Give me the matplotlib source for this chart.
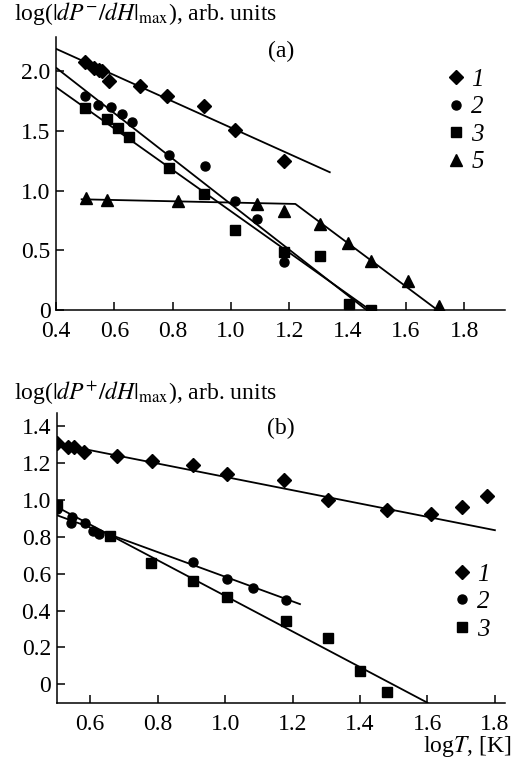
import matplotlib
matplotlib.use('Agg')
import matplotlib.pyplot as plt

plt.rcParams['font.family'] = ['Liberation Serif', 'DejaVu Serif']
plt.rcParams['mathtext.fontset'] = 'stix'
plt.rcParams['font.size'] = 17

# ---- panel (a) data ----
a1_x = [0.50, 0.532, 0.548, 0.558, 0.582, 0.688, 0.780, 0.909, 1.014, 1.183]
a1_y = [2.08, 2.03, 2.01, 2.00, 1.92, 1.88, 1.79, 1.71, 1.51, 1.25]
a2_x = [0.50, 0.543, 0.588, 0.627, 0.662, 0.787, 0.910, 1.013, 1.088, 1.183]
a2_y = [1.79, 1.72, 1.70, 1.64, 1.58, 1.30, 1.21, 0.91, 0.76, 0.40]
a3_x = [0.501, 0.574, 0.611, 0.651, 0.787, 0.907, 1.013, 1.183, 1.307, 1.405, 1.479]
a3_y = [1.69, 1.60, 1.53, 1.45, 1.19, 0.97, 0.67, 0.49, 0.45, 0.05, 0.0]
a5_x = [0.502, 0.576, 0.817, 1.088, 1.183, 1.307, 1.402, 1.479, 1.607, 1.712]
a5_y = [0.94, 0.92, 0.91, 0.89, 0.83, 0.72, 0.56, 0.41, 0.24, 0.03]
# fitted lines (end points)
a1_fit_x = [0.40, 1.339]
a1_fit_y = [2.19, 1.155]
a2_fit_x = [0.402, 1.465]
a2_fit_y = [2.028, 0.0]
a3_fit_x = [0.402, 1.477]
a3_fit_y = [1.865, 0.0]
a5_fit_x = [0.488, 1.221, 1.708]
a5_fit_y = [0.928, 0.889, 0.0]

# ---- panel (b) data ----
b1_x = [0.501, 0.535, 0.552, 0.582, 0.679, 0.782, 0.906, 1.005, 1.174, 1.306, 1.479, 1.610, 1.701, 1.777]
b1_y = [1.31, 1.29, 1.285, 1.26, 1.24, 1.21, 1.19, 1.14, 1.11, 1.00, 0.945, 0.923, 0.963, 1.02]
b2_x = [0.50, 0.542, 0.545, 0.585, 0.609, 0.627, 0.906, 1.006, 1.083, 1.182]
b2_y = [0.95, 0.876, 0.905, 0.876, 0.833, 0.815, 0.665, 0.571, 0.520, 0.457]
b3_x = [0.50, 0.659, 0.779, 0.906, 1.005, 1.182, 1.306, 1.400, 1.479]
b3_y = [0.975, 0.804, 0.656, 0.562, 0.471, 0.345, 0.249, 0.072, -0.043]
b1_fit_x = [0.50, 1.80]
b1_fit_y = [1.306, 0.836]
b2_fit_x = [0.50, 1.222]
b2_fit_y = [0.918, 0.435]
b3_fit_x = [0.50, 1.60]
b3_fit_y = [0.963, -0.10]

a_xticks = [0.4, 0.6, 0.8, 1.0, 1.2, 1.4, 1.6, 1.8]
a_yticks = [0, 0.5, 1.0, 1.5, 2.0]
a_yticklabels = ['0', '0.5', '1.0', '1.5', '2.0']
b_xticks = [0.6, 0.8, 1.0, 1.2, 1.4, 1.6, 1.8]
b_yticks = [0, 0.2, 0.4, 0.6, 0.8, 1.0, 1.2, 1.4]
b_yticklabels = ['0', '0.2', '0.4', '0.6', '0.8', '1.0', '1.2', '1.4']

fig = plt.figure(figsize=(5.16, 7.68), dpi=100)
axa = fig.add_axes([0.1085, 0.5964, 0.8702, 0.3556])
axb = fig.add_axes([0.1095, 0.0850, 0.8692, 0.3768])


def style(ax):
    for s in ['top', 'right']:
        ax.spines[s].set_visible(False)
    for s in ['left', 'bottom']:
        ax.spines[s].set_linewidth(1.1)
    ax.tick_params(direction='in', length=6, width=1.1, labelsize=17)
    ax.tick_params(axis='x', pad=8)
    ax.tick_params(axis='y', pad=4)


ms = dict(color='black', linestyle='none')
lw = 1.3

# panel (a)
axa.plot(a1_fit_x, a1_fit_y, 'k-', lw=lw)
axa.plot(a2_fit_x, a2_fit_y, 'k-', lw=lw)
axa.plot(a3_fit_x, a3_fit_y, 'k-', lw=lw)
axa.plot(a5_fit_x, a5_fit_y, 'k-', lw=lw)
h1, = axa.plot(a1_x, a1_y, marker='D', markersize=7, label='1', **ms)
h2, = axa.plot(a2_x, a2_y, marker='o', markersize=6.5, label='2', **ms)
h3, = axa.plot(a3_x, a3_y, marker='s', markersize=6.5, label='3', **ms)
h5, = axa.plot(a5_x, a5_y, marker='^', markersize=8, label='5', **ms)
axa.set_xlim(0.4, 1.94)
axa.set_ylim(0, 2.29)
axa.set_xticks(a_xticks)
axa.set_yticks(a_yticks)
axa.set_yticklabels(a_yticklabels)
style(axa)
axa.text(1.173, 2.167, '(a)', ha='center', va='center', fontsize=17)
axa.legend(handles=[h1, h2, h3, h5], loc='upper left', bbox_to_anchor=(0.847, 0.93),
           frameon=False, numpoints=1, handlelength=0.6, handletextpad=0.3,
           labelspacing=0.2, borderpad=0, prop={'style': 'italic', 'size': 18})
fig.text(0.028, 0.982, r'log($|dP^{-}/dH|_{\mathrm{max}}$), arb. units', ha='left', va='center', fontsize=17)

# panel (b)
axb.plot(b1_fit_x, b1_fit_y, 'k-', lw=lw)
axb.plot(b2_fit_x, b2_fit_y, 'k-', lw=lw)
axb.plot(b3_fit_x, b3_fit_y, 'k-', lw=lw)
g1, = axb.plot(b1_x, b1_y, marker='D', markersize=7, label='1', **ms)
g2, = axb.plot(b2_x, b2_y, marker='o', markersize=6.5, label='2', **ms)
g3, = axb.plot(b3_x, b3_y, marker='s', markersize=6.5, label='3', **ms)
axb.set_xlim(0.5, 1.83)
axb.set_ylim(-0.1, 1.47)
axb.set_xticks(b_xticks)
axb.set_yticks(b_yticks)
axb.set_yticklabels(b_yticklabels)
style(axb)
axb.text(1.165, 1.387, '(b)', ha='center', va='center', fontsize=17)
axb.legend(handles=[g1, g2, g3], loc='upper left', bbox_to_anchor=(0.859, 0.526),
           frameon=False, numpoints=1, handlelength=0.6, handletextpad=0.3,
           labelspacing=0.2, borderpad=0, prop={'style': 'italic', 'size': 18})
fig.text(0.028, 0.488, r'log($|dP^{+}/dH|_{\mathrm{max}}$), arb. units', ha='left', va='center', fontsize=17)
fig.text(0.99, 0.028, r'log$T$, [K]', ha='right', va='center', fontsize=17)

plt.savefig('out.png', dpi=100)
